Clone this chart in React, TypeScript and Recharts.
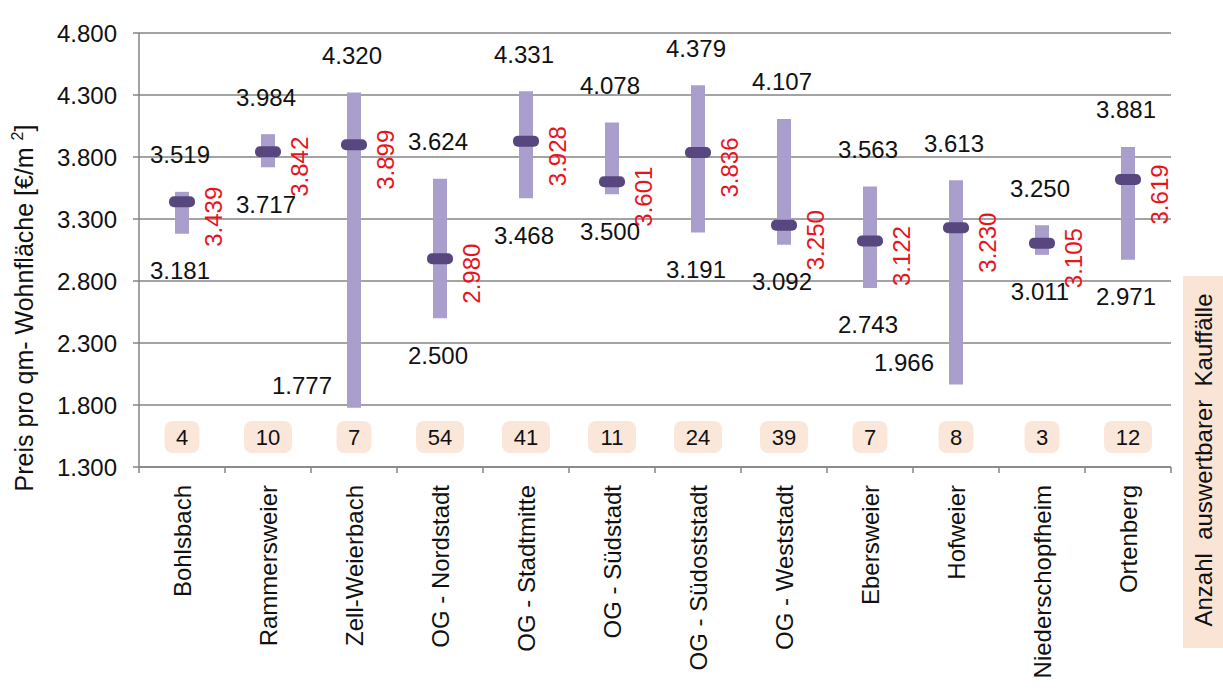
import React from 'react';
import {
    ComposedChart,
    Bar,
    Line,
    XAxis,
    YAxis,
    CartesianGrid
} from 'recharts';

// Stadtteile
const categories = [
    'Bohlsbach',
    'Rammersweier',
    'Zell-Weierbach',
    'OG - Nordstadt',
    'OG - Stadtmitte',
    'OG - Südstadt',
    'OG - Südoststadt',
    'OG - Weststadt',
    'Ebersweier',
    'Hofweier',
    'Niederschopfheim',
    'Ortenberg'
];

// Preis pro qm Wohnfläche
const maxValues = [3519, 3984, 4320, 3624, 4331, 4078, 4379, 4107, 3563, 3613, 3250, 3881];
const minValues = [3181, 3717, 1777, 2500, 3468, 3500, 3191, 3092, 2743, 1966, 3011, 2971];
const meanValues = [3439, 3842, 3899, 2980, 3928, 3601, 3836, 3250, 3122, 3230, 3105, 3619];

// Anzahl auswertbarer Kauffälle
const counts = [4, 10, 7, 54, 41, 11, 24, 39, 7, 8, 3, 12];

const yTicks = [1300, 1800, 2300, 2800, 3300, 3800, 4300, 4800];

const WIDTH = 1223;
const HEIGHT = 693;
const MARGIN = { top: 33, right: 52, bottom: 26, left: 0 };
const Y_AXIS_WIDTH = 139;
const X_AXIS_HEIGHT = 200;
const BAND = (WIDTH - MARGIN.left - MARGIN.right - Y_AXIS_WIDTH) / categories.length;

const FONT = 'Liberation Sans, Arial, sans-serif';
const GRID = '#858585';
const RANGE_COLOR = '#aa9ecd';
const MARKER_COLOR = '#58477f';
const RED = '#e8141c';

const data = categories.map((name, i) => ({
    name,
    range: [minValues[i], maxValues[i]],
    min: minValues[i],
    max: maxValues[i],
    mean: meanValues[i],
    count: counts[i]
}));

// 3519 -> "3.519"
const fmt = (v: number) => `${Math.floor(v / 1000)}.${String(v % 1000).padStart(3, '0')}`;

const MeanDot = (props: any) => {
    const { cx, cy, payload } = props;
    if (cx == null || cy == null) return null;
    return (
        <g>
            <rect x={cx - 13} y={cy - 5.5} width={26} height={11} rx={5} fill={MARKER_COLOR} />
            <text
                x={0}
                y={0}
                transform={`translate(${cx + 40}, ${cy + 15}) rotate(-90)`}
                textAnchor="middle"
                fontSize={24}
                fontFamily={FONT}
                fill={RED}
            >
                {fmt(payload.mean)}
            </text>
        </g>
    );
};

const MaxLabel = (props: any) => {
    const { cx, cy, payload } = props;
    if (cx == null || cy == null) return null;
    return (
        <text x={cx - 2} y={cy - 37} dy="0.35em" textAnchor="middle" fontSize={24} fontFamily={FONT} fill="#111">
            {fmt(payload.max)}
        </text>
    );
};

const MinLabel = (props: any) => {
    const { cx, cy, payload } = props;
    if (cx == null || cy == null) return null;
    // zu nah an der Fallzahl-Zeile -> links neben den Balken
    const low = payload.min < 2100;
    return (
        <text
            x={low ? cx - 22 : cx - 2}
            y={low ? cy - 22 : cy + 37}
            dy="0.35em"
            textAnchor={low ? 'end' : 'middle'}
            fontSize={24}
            fontFamily={FONT}
            fill="#111"
        >
            {fmt(payload.min)}
        </text>
    );
};

const CategoryTick = (props: any) => {
    const { x, y, payload, index } = props;
    const count = counts[index];
    const boxW = String(count).length * 13 + 22;
    const last = index === categories.length - 1;
    return (
        <g>
            <line x1={x - BAND / 2} y1={y} x2={x - BAND / 2} y2={y + 6} stroke={GRID} strokeWidth={1.5} />
            {last && <line x1={x + BAND / 2} y1={y} x2={x + BAND / 2} y2={y + 6} stroke={GRID} strokeWidth={1.5} />}
            <rect x={x - boxW / 2} y={y - 46} width={boxW} height={32} rx={8} fill="#fbe6da" />
            <text x={x} y={y - 30} dy="0.35em" textAnchor="middle" fontSize={22} fontFamily={FONT} fill="#111">
                {count}
            </text>
            <text
                x={0}
                y={0}
                transform={`translate(${x + 9}, ${y + 18}) rotate(-90)`}
                textAnchor="end"
                fontSize={24}
                fontFamily={FONT}
                fill="#111"
            >
                {payload.value}
            </text>
        </g>
    );
};

const App: React.FC = () => {
    return (
        <div style={{ position: 'fixed', left: 0, top: 0, width: WIDTH, height: HEIGHT, background: '#fff' }}>
            <ComposedChart width={WIDTH} height={HEIGHT} data={data} margin={MARGIN}>
                <CartesianGrid vertical={false} stroke={GRID} strokeWidth={1.5} />
                <XAxis
                    dataKey="name"
                    height={X_AXIS_HEIGHT}
                    interval={0}
                    tickLine={false}
                    tickSize={0}
                    tickMargin={0}
                    axisLine={{ stroke: GRID, strokeWidth: 1.5 }}
                    tick={<CategoryTick />}
                />
                <YAxis
                    width={Y_AXIS_WIDTH}
                    domain={[1300, 4800]}
                    ticks={yTicks}
                    interval={0}
                    tickFormatter={fmt}
                    tickSize={6}
                    tickMargin={16}
                    tickLine={{ stroke: GRID, strokeWidth: 1.5 }}
                    axisLine={{ stroke: GRID, strokeWidth: 1.5 }}
                    tick={{ fontSize: 24, fontFamily: FONT, fill: '#111' }}
                />
                <Bar dataKey="range" barSize={14} fill={RANGE_COLOR} isAnimationActive={false} />
                <Line
                    dataKey="max"
                    stroke="none"
                    dot={(p: any) => <MaxLabel key={`max-${p.index}`} {...p} />}
                    activeDot={false}
                    isAnimationActive={false}
                />
                <Line
                    dataKey="min"
                    stroke="none"
                    dot={(p: any) => <MinLabel key={`min-${p.index}`} {...p} />}
                    activeDot={false}
                    isAnimationActive={false}
                />
                <Line
                    dataKey="mean"
                    stroke="none"
                    dot={(p: any) => <MeanDot key={`mean-${p.index}`} {...p} />}
                    activeDot={false}
                    isAnimationActive={false}
                />
            </ComposedChart>
            <svg
                width={WIDTH}
                height={HEIGHT}
                style={{ position: 'absolute', left: 0, top: 0, pointerEvents: 'none' }}
            >
                <text
                    x={0}
                    y={0}
                    transform="translate(33, 308) rotate(-90)"
                    textAnchor="middle"
                    fontSize={25}
                    fontFamily={FONT}
                    fill="#111"
                >
                    Preis pro qm- Wohnfläche [€/m <tspan dy={-10} fontSize={16}>2</tspan>
                    <tspan dy={10}>]</tspan>
                </text>
                <rect x={1183} y={276} width={40} height={372} fill="#fae4d5" />
                <text
                    x={0}
                    y={0}
                    transform="translate(1212, 460) rotate(-90)"
                    textAnchor="middle"
                    fontSize={24}
                    fontFamily={FONT}
                    fill="#111"
                    style={{ whiteSpace: 'pre' }}
                >
                    {'Anzahl  auswertbarer  Kauffälle'}
                </text>
            </svg>
        </div>
    );
};

export default App;
